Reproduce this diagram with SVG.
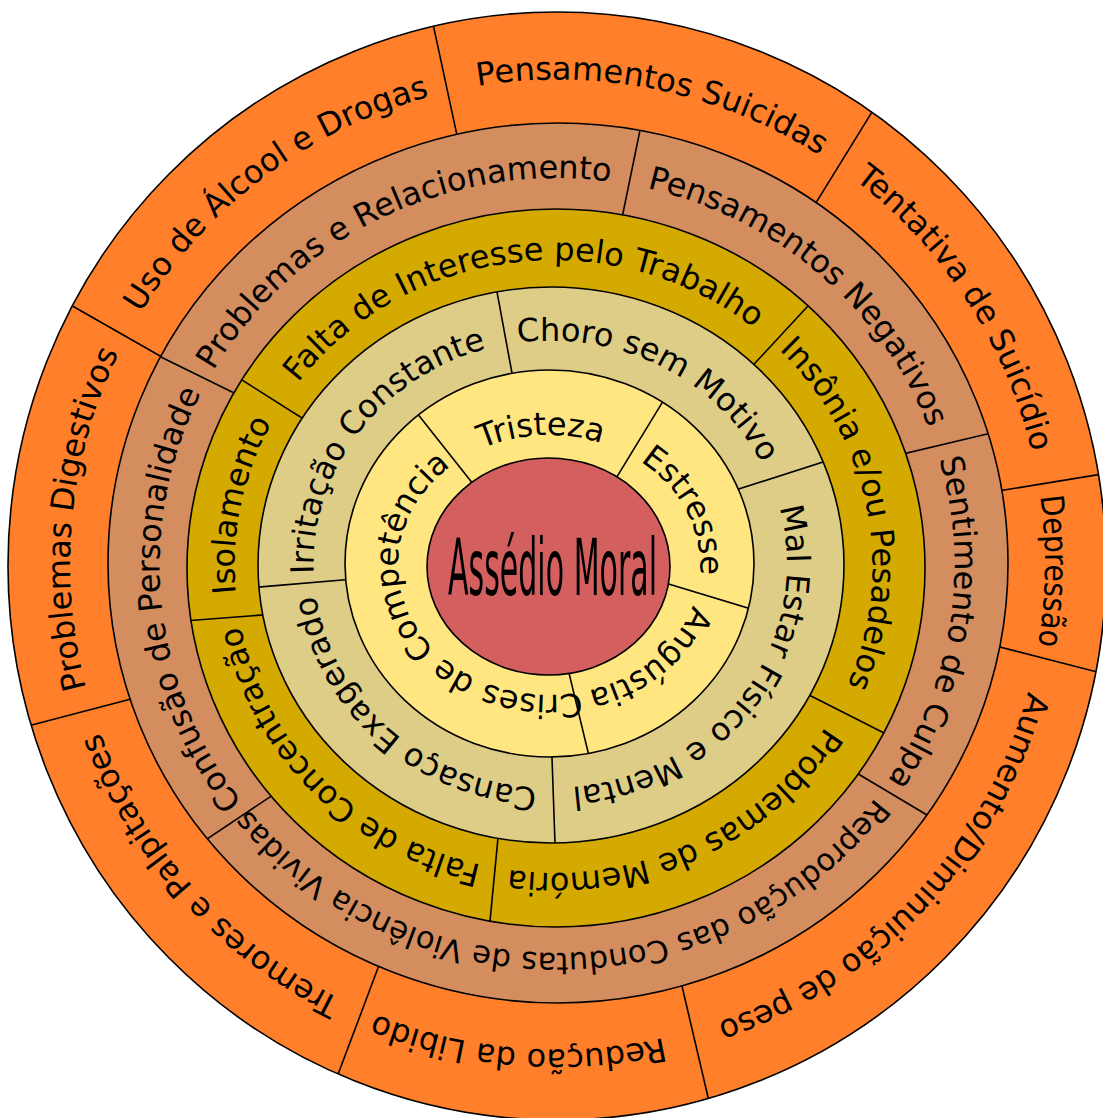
<svg xmlns="http://www.w3.org/2000/svg" width="1103" height="1118" viewBox="0 0 1103 1118">
  <defs>
    <style>
      .band { stroke: #000; stroke-width: 1.6; }
      .sep { stroke: #000; stroke-width: 1.6; fill: none; }
      .lbl { font-family: "DejaVu Sans", "Liberation Sans", sans-serif; font-size: 32px; fill: #000; text-anchor: middle; }
      .core { font-family: "DejaVu Sans", "Liberation Sans", sans-serif; font-size: 78px; fill: #000; text-anchor: middle; }
    </style>
    <!-- outer boundaries of each band, used to trim the separators -->
    <clipPath id="clip-outer"><ellipse cx="557" cy="566" rx="549" ry="554"/></clipPath>
    <clipPath id="clip-second"><ellipse cx="558" cy="563" rx="450" ry="440"/></clipPath>
    <clipPath id="clip-third"><ellipse cx="556" cy="568" rx="369" ry="359"/></clipPath>
    <clipPath id="clip-fourth"><ellipse cx="551" cy="565" rx="293" ry="278"/></clipPath>
    <clipPath id="clip-inner"><ellipse cx="549.5" cy="563.5" rx="204.5" ry="193.5"/></clipPath>
    <!-- clockwise baselines (two turns) for the curved labels -->
    <path id="arc-outer" d="M1045,564.5 A487.5,485 0 0 1 70,564.5 A487.5,485 0 0 1 1045,564.5 A487.5,485 0 0 1 70,564.5 A487.5,485 0 0 1 1045,564.5"/>
    <path id="arc-second" d="M954.5,565.5 A397.5,387.5 0 0 1 159.5,565.5 A397.5,387.5 0 0 1 954.5,565.5 A397.5,387.5 0 0 1 159.5,565.5 A397.5,387.5 0 0 1 954.5,565.5"/>
    <path id="arc-third" d="M872.5,566.5 A319,306.5 0 0 1 234.5,566.5 A319,306.5 0 0 1 872.5,566.5 A319,306.5 0 0 1 234.5,566.5 A319,306.5 0 0 1 872.5,566.5"/>
    <path id="arc-fourth" d="M787,564.25 A236.75,223.75 0 0 1 313.5,564.25 A236.75,223.75 0 0 1 787,564.25 A236.75,223.75 0 0 1 313.5,564.25 A236.75,223.75 0 0 1 787,564.25"/>
    <path id="arc-inner" d="M700,565 A151,130 0 0 1 398,565 A151,130 0 0 1 700,565 A151,130 0 0 1 398,565 A151,130 0 0 1 700,565"/>
  </defs>

  <rect width="1103" height="1118" fill="#fff"/>

  <!-- outermost band -->
  <g id="band-outer">
    <ellipse class="band" cx="557" cy="566" rx="549" ry="554" fill="#ff7f2a"/>
    <g class="sep" clip-path="url(#clip-outer)">
      <line x1="429.3" y1="6.7" x2="461" y2="153.8"/>
      <line x1="882.4" y1="95.2" x2="805.6" y2="219.6"/>
      <line x1="1118.2" y1="471.4" x2="982.1" y2="493.6"/>
      <line x1="1115.3" y1="676.7" x2="980.3" y2="642"/>
      <line x1="712.9" y1="1118" x2="677.4" y2="966.5"/>
      <line x1="331.1" y1="1092.8" x2="385.6" y2="947.8"/>
      <line x1="12.7" y1="730.1" x2="146.3" y2="694.9"/>
      <line x1="54.9" y1="296" x2="178.1" y2="366.3"/>
    </g>
  </g>

  <!-- second band -->
  <g id="band-second">
    <ellipse class="band" cx="558" cy="563" rx="450" ry="440" fill="#d38d5f"/>
    <g class="sep" clip-path="url(#clip-second)">
      <line x1="644" y1="110.7" x2="619" y2="232.6"/>
      <line x1="1006.5" y1="429.4" x2="887.5" y2="457.6"/>
      <line x1="944.2" y1="825.3" x2="842.8" y2="764.7"/>
      <line x1="190.4" y1="850.1" x2="286.6" y2="785.9"/>
      <line x1="143.1" y1="348.2" x2="249.9" y2="400.8"/>
    </g>
  </g>

  <!-- third band -->
  <g id="band-third">
    <ellipse class="band" cx="556" cy="568" rx="369" ry="359" fill="#d4aa00"/>
    <g class="sep" clip-path="url(#clip-third)">
      <line x1="225.1" y1="369.3" x2="318.9" y2="428.7"/>
      <line x1="821.6" y1="291.3" x2="742.4" y2="376.7"/>
      <line x1="901.8" y1="742" x2="795.2" y2="688"/>
      <line x1="488.1" y1="940.9" x2="499.9" y2="818.1"/>
      <line x1="171.1" y1="622" x2="281.9" y2="613.5"/>
    </g>
  </g>

  <!-- fourth band -->
  <g id="band-fourth">
    <ellipse class="band" cx="551" cy="565" rx="293" ry="278" fill="#decd87"/>
    <g class="sep" clip-path="url(#clip-fourth)">
      <line x1="493.4" y1="272.3" x2="515.6" y2="392.7"/>
      <line x1="842" y1="455.9" x2="723" y2="494.1"/>
      <line x1="555.7" y1="863" x2="551.3" y2="738"/>
      <line x1="239.1" y1="588.7" x2="362.9" y2="578.3"/>
    </g>
  </g>

  <!-- innermost band -->
  <g id="band-inner">
    <ellipse class="band" cx="549.5" cy="563.5" rx="204.5" ry="193.5" fill="#ffe680"/>
    <g class="sep" clip-path="url(#clip-inner)">
      <line x1="407.6" y1="401.3" x2="482.4" y2="495.7"/>
      <line x1="672.4" y1="385.9" x2="607.6" y2="492.1"/>
      <line x1="767.1" y1="613.8" x2="652.9" y2="579.2"/>
      <line x1="592.7" y1="771.4" x2="565.3" y2="657.6"/>
    </g>
  </g>

  <!-- centre -->
  <g id="core">
    <ellipse class="band" cx="548.5" cy="566.5" rx="121.5" ry="108.5" fill="#d35f5f"/>
    <text class="core" x="552.5" y="595" textLength="209" lengthAdjust="spacingAndGlyphs">Assédio Moral</text>
  </g>

  <g id="labels-outer">
    <text class="lbl"><textPath href="#arc-outer" startOffset="2389.2">Pensamentos Suicidas</textPath></text>
    <text class="lbl"><textPath href="#arc-outer" startOffset="2775.8">Tentativa de Suicídio</textPath></text>
    <text class="lbl"><textPath href="#arc-outer" startOffset="3061.2" textLength="150" lengthAdjust="spacingAndGlyphs">Depressão</textPath></text>
    <text class="lbl"><textPath href="#arc-outer" startOffset="3419.5">Aumento/Diminuição de peso</textPath></text>
    <text class="lbl"><textPath href="#arc-outer" startOffset="3858.2">Redução da Libido</textPath></text>
    <text class="lbl"><textPath href="#arc-outer" startOffset="4227">Tremores e Palpitações</textPath></text>
    <text class="lbl"><textPath href="#arc-outer" startOffset="1574.2">Problemas Digestivos</textPath></text>
    <text class="lbl"><textPath href="#arc-outer" startOffset="1976.8">Uso de Álcool e Drogas</textPath></text>
  </g>

  <g id="labels-second">
    <text class="lbl"><textPath href="#arc-second" startOffset="1669.5">Problemas e Relacionamento</textPath></text>
    <text class="lbl"><textPath href="#arc-second" startOffset="2131.6">Pensamentos Negativos</textPath></text>
    <text class="lbl"><textPath href="#arc-second" startOffset="2525.2">Sentimento de Culpa</textPath></text>
    <text class="lbl" style="font-size:30.7px"><textPath href="#arc-second" startOffset="3073.6">Reprodução das Condutas de Violência Vividas</textPath></text>
    <text class="lbl"><textPath href="#arc-second" startOffset="3659">Confusão de Personalidade</textPath></text>
  </g>

  <g id="labels-third">
    <text class="lbl"><textPath href="#arc-third" startOffset="1434.2">Falta de Interesse pelo Trabalho</textPath></text>
    <text class="lbl"><textPath href="#arc-third" startOffset="1904">Insônia e/ou Pesadelos</textPath></text>
    <text class="lbl"><textPath href="#arc-third" startOffset="2316.9">Problemas de Memória</textPath></text>
    <text class="lbl"><textPath href="#arc-third" startOffset="2707">Falta de Concentração</textPath></text>
    <text class="lbl"><textPath href="#arc-third" startOffset="1043.6">Isolamento</textPath></text>
  </g>

  <g id="labels-fourth">
    <text class="lbl"><textPath href="#arc-fourth" startOffset="866.9">Irritação Constante</textPath></text>
    <text class="lbl"><textPath href="#arc-fourth" startOffset="1196.9">Choro sem Motivo</textPath></text>
    <text class="lbl"><textPath href="#arc-fourth" startOffset="1587.5">Mal Estar Físico e Mental</textPath></text>
    <text class="lbl"><textPath href="#arc-fourth" startOffset="1980">Cansaço Exagerado</textPath></text>
  </g>

  <g id="labels-inner">
    <text class="lbl"><textPath href="#arc-inner" startOffset="655.2">Tristeza</textPath></text>
    <text class="lbl"><textPath href="#arc-inner" startOffset="826.2">Estresse</textPath></text>
    <text class="lbl"><textPath href="#arc-inner" startOffset="994.8">Angústia</textPath></text>
    <text class="lbl"><textPath href="#arc-inner" startOffset="1257.1">Crises de Competência</textPath></text>
  </g>
</svg>
